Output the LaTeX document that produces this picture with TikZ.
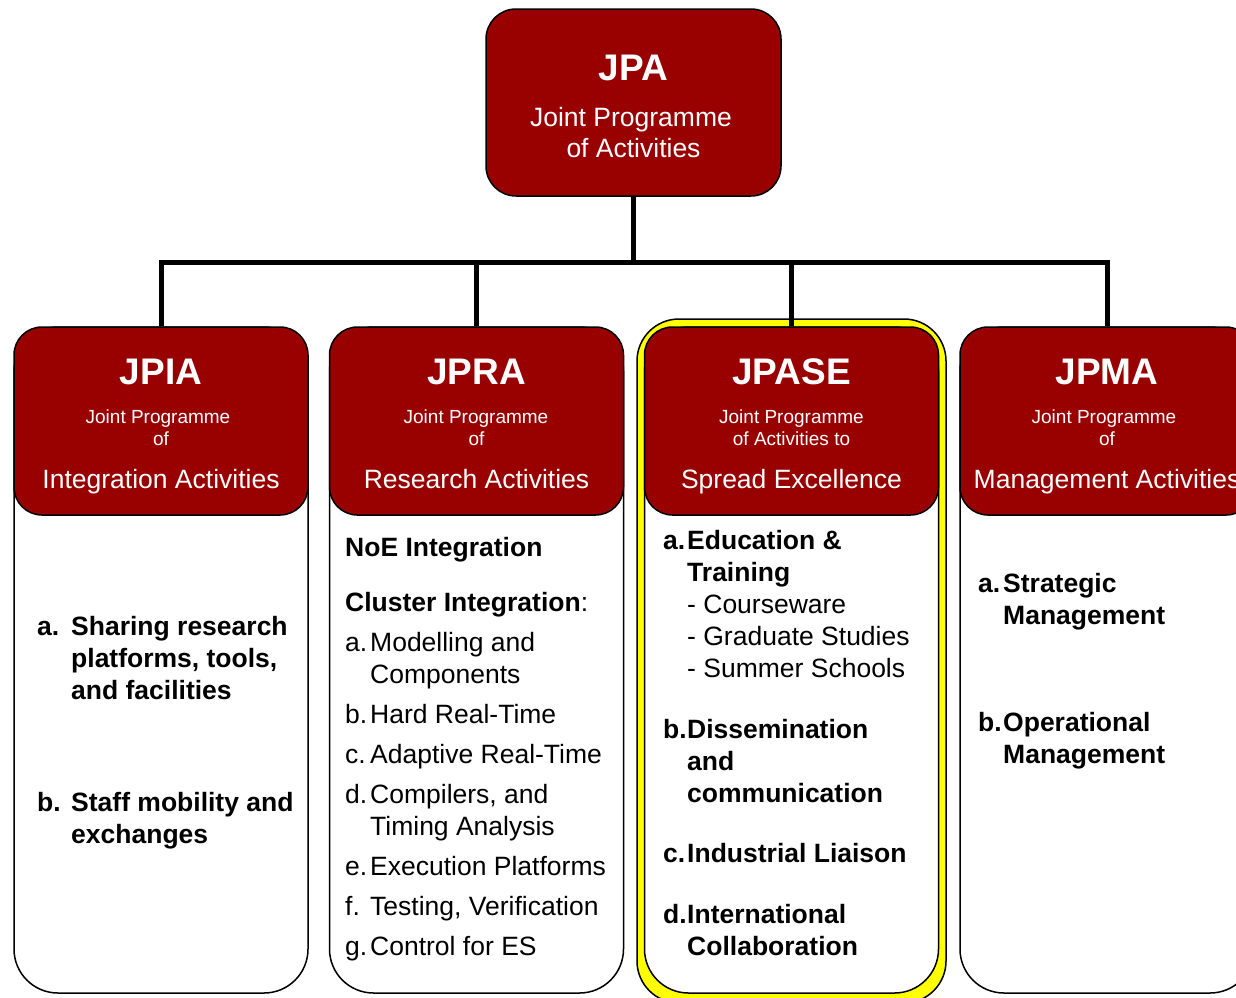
\documentclass[tikz,border=0pt]{standalone}
\usepackage{fontspec}
\setmainfont{Liberation Sans}
\definecolor{dred}{HTML}{990000}
\definecolor{ylw}{HTML}{FFFF00}
\tikzset{
 hdr/.style={draw=black, line width=1.5pt, fill=dred, rounded corners=28pt, minimum width=294pt, minimum height=188pt, inner sep=0pt},
 bodybox/.style={draw=black, line width=1.5pt, fill=white, rounded corners=44pt, minimum width=294pt, minimum height=666pt, inner sep=0pt},
 hilite/.style={draw=black, line width=1.5pt, fill=ylw, rounded corners=42pt, minimum width=309pt, minimum height=684pt, inner sep=0pt},
 conn/.style={line width=5pt, draw=black},
 ttl/.style={anchor=base, inner sep=0pt, text=white, font=\fontsize{37}{44}\selectfont\bfseries},
 sub/.style={anchor=base, inner sep=0pt, text=white, font=\fontsize{19}{22}\selectfont},
 big/.style={anchor=base, inner sep=0pt, text=white, font=\fontsize{26.5}{32}\selectfont},
 bt/.style={anchor=base west, inner sep=0pt, font=\fontsize{26.5}{32}\selectfont},
 bb/.style={anchor=base west, inner sep=0pt, font=\fontsize{26.5}{32}\selectfont\bfseries},
}
\newcommand\lab[2]{\makebox[#1pt][l]{#2}}
\begin{document}
\begin{tikzpicture}[x=1pt,y=-1pt]
\useasboundingbox (0,0) rectangle (1236,997);
\clip (0,0) rectangle (1236,997);

% highlight frame
\node[hilite] (hl) at (791.5,661) {};

% body boxes
\node[bodybox] (bia) at (161,660) {};
\node[bodybox] (bra) at (476.5,660) {};
\node[bodybox] (bse) at (791.5,660) {};
\node[bodybox] (bma) at (1107,660) {};

% headers
\node[hdr, minimum width=295pt, minimum height=187pt, rounded corners=30pt] (jpa) at (633.5,102.5) {};
\node[hdr] (jpia) at (161,421) {};
\node[hdr] (jpra) at (476.5,421) {};
\node[hdr] (jpase) at (791.5,421) {};
\node[hdr] (jpma) at (1107,421) {};

% connectors
\coordinate (hub) at (633.5,262);
\draw[conn] (jpa.south) -- (hub);
\draw[conn] (jpia.north) |- (hub) -| (jpma.north);
\draw[conn] (jpra.north) -- (jpra.north |- hub);
\draw[conn] (jpase.north) -- (jpase.north |- hub);

% header texts
\node[ttl] (t0) at (633.5,80) {JPA};
\node[big] (t0a) at (631,126) {Joint Programme};
\node[big] (t0b) at (633.5,157) {of Activities};

\node[ttl] (t1) at (161,384) {JPIA};
\node[sub] (t1a) at (158,423) {Joint Programme};
\node[sub] (t1b) at (161,445) {of};
\node[big] (t1c) at (161,488) {Integration Activities};

\node[ttl] (t2) at (476.5,384) {JPRA};
\node[sub] (t2a) at (476,423) {Joint Programme};
\node[sub] (t2b) at (476.5,445) {of};
\node[big] (t2c) at (476.5,488) {Research Activities};

\node[ttl] (t3) at (791.5,384) {JPASE};
\node[sub] (t3a) at (791.5,423) {Joint Programme};
\node[sub] (t3b) at (791.5,445) {of Activities to};
\node[big] (t3c) at (791.5,488) {Spread Excellence};

\node[ttl] (t4) at (1107,384) {JPMA};
\node[sub] (t4a) at (1104,423) {Joint Programme};
\node[sub] (t4b) at (1107,445) {of};
\node[big] (t4c) at (1107,488) {Management Activities};

% JPIA body
\node[bb] (ia1) at (37,635) {\lab{34}{a.}Sharing research};
\node[bb] (ia2) at (71,667) {platforms, tools,};
\node[bb] (ia3) at (71,699) {and facilities};
\node[bb] (ia4) at (37,811) {\lab{34}{b.}Staff mobility and};
\node[bb] (ia5) at (71,843) {exchanges};

% JPRA body
\node[bb] (ra1) at (345,556) {NoE Integration};
\node[bt] (ra2) at (345,611) {\textbf{Cluster Integration}:};
\node[bt] (ra3) at (345,651) {\lab{25}{a.}Modelling and};
\node[bt] (ra4) at (370,683) {Components};
\node[bt] (ra5) at (345,723) {\lab{25}{b.}Hard Real-Time};
\node[bt] (ra6) at (345,763) {\lab{25}{c.}Adaptive Real-Time};
\node[bt] (ra7) at (345,803) {\lab{25}{d.}Compilers, and};
\node[bt] (ra8) at (370,835) {Timing Analysis};
\node[bt] (ra9) at (345,875) {\lab{25}{e.}Execution Platforms};
\node[bt] (ra10) at (345,915) {\lab{25}{f.}Testing, Verification};
\node[bt] (ra11) at (345,955) {\lab{25}{g.}Control for ES};

% JPASE body
\node[bb] (se1) at (663,549) {\lab{24}{a.}Education \&};
\node[bb] (se2) at (687,581) {Training};
\node[bt] (se3) at (687,613) {- Courseware};
\node[bt] (se4) at (687,645) {- Graduate Studies};
\node[bt] (se5) at (687,677) {- Summer Schools};
\node[bb] (se6) at (663,738) {\lab{24}{b.}Dissemination};
\node[bb] (se7) at (687,770) {and};
\node[bb] (se8) at (687,802) {communication};
\node[bb] (se9) at (663,862) {\lab{24}{c.}Industrial Liaison};
\node[bb] (se10) at (663,923) {\lab{24}{d.}International};
\node[bb] (se11) at (687,955) {Collaboration};

% JPMA body
\node[bb] (ma1) at (978,592) {\lab{25}{a.}Strategic};
\node[bb] (ma2) at (1003,624) {Management};
\node[bb] (ma3) at (978,731) {\lab{25}{b.}Operational};
\node[bb] (ma4) at (1003,763) {Management};
\end{tikzpicture}
\end{document}
